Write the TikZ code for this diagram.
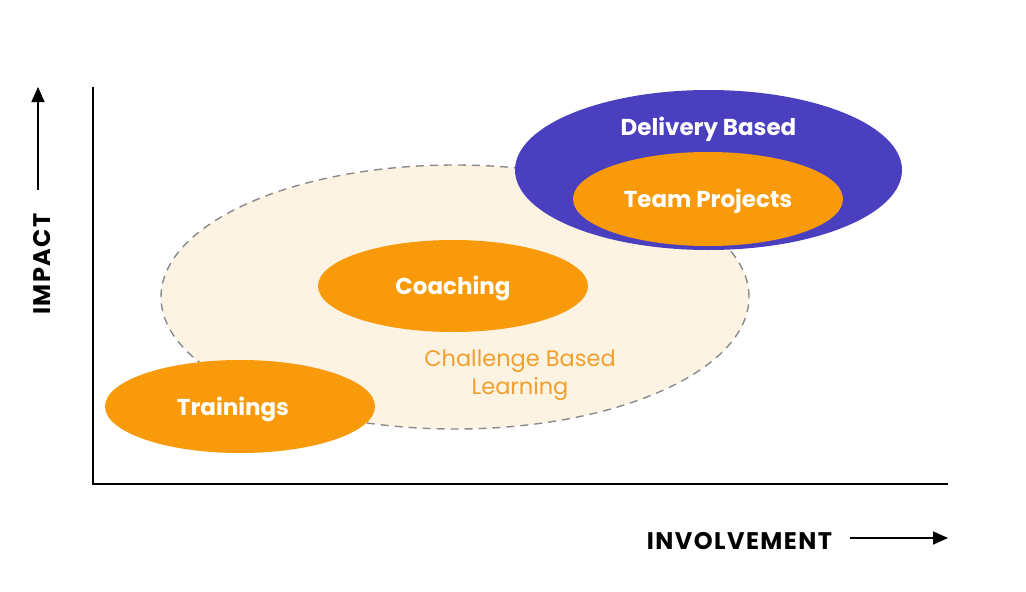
\documentclass[tikz,border=0pt]{standalone}
\usepackage{fontspec}
\setmainfont{Poppins}
\usetikzlibrary{shapes.geometric,arrows.meta}
\definecolor{orng}{HTML}{F99A0B}
\definecolor{purp}{HTML}{4A3FBF}
\definecolor{cream}{HTML}{FDF3E2}
\definecolor{cbltext}{HTML}{F0A030}
\definecolor{dashgray}{HTML}{8A8A8A}
\newcommand{\lowtext}[1]{\raisebox{-8.5pt}[0pt][0pt]{#1}}
\begin{document}
\begin{tikzpicture}[x=1pt,y=-1pt,
  blob/.style={ellipse,inner sep=0pt,fill=orng,text=white,font=\bfseries\fontsize{23}{28}\selectfont},
  axislabel/.style={font=\bfseries\fontsize{24}{28}\selectfont,text=black},
  axisline/.style={line width=1.6pt,black},
  arrowline/.style={line width=1.6pt,black,-{Triangle[length=15pt,width=13pt]}}]
\useasboundingbox (0,0) rectangle (1026,592);
% dashed challenge area
\node[ellipse,draw=dashgray,dash pattern=on 8pt off 6pt,line width=1.4pt,fill=cream,
  minimum width=588pt,minimum height=264pt,inner sep=0pt] (cbl) at (455,297) {};
\node[text=cbltext,align=center,font=\fontsize{22.5}{28}\selectfont] (cbltxt) at (520,375) {Challenge Based\\Learning};
% delivery based
\node[ellipse,fill=purp,minimum width=387pt,minimum height=160pt,inner sep=0pt] (deliv) at (708.5,170) {};
\node[text=white,font=\bfseries\fontsize{23}{28}\selectfont] (delivtxt) at (708.5,129.5) {Delivery Based};
\node[blob,minimum width=270pt,minimum height=94pt] (team) at (708,199) {\lowtext{Team Projects}};
\node[blob,minimum width=270pt,minimum height=92pt] (coach) at (453,286) {\lowtext{Coaching}};
\node[blob,minimum width=270pt,minimum height=93pt] (train) at (240,406.5) {\hspace*{-14pt}\lowtext{Trainings}};
% axes
\coordinate (ytop) at (93,87);
\coordinate (orig) at (93,484);
\coordinate (xend) at (948,484);
\draw[axisline] (ytop) -- (orig) -- (xend);
% axis labels
\node[axislabel,rotate=90] (impact) at (42,264) {\addfontfeature{LetterSpace=6}IMPACT};
\coordinate (ia1) at (38,190);
\coordinate (ia2) at (38,87);
\draw[arrowline] (ia1) -- (ia2);
\node[axislabel] (inv) at (739.5,541) {\addfontfeature{LetterSpace=6}INVOLVEMENT};
\coordinate (xa1) at (850,538);
\coordinate (xa2) at (948,538);
\draw[arrowline] (xa1) -- (xa2);
\end{tikzpicture}
\end{document}
